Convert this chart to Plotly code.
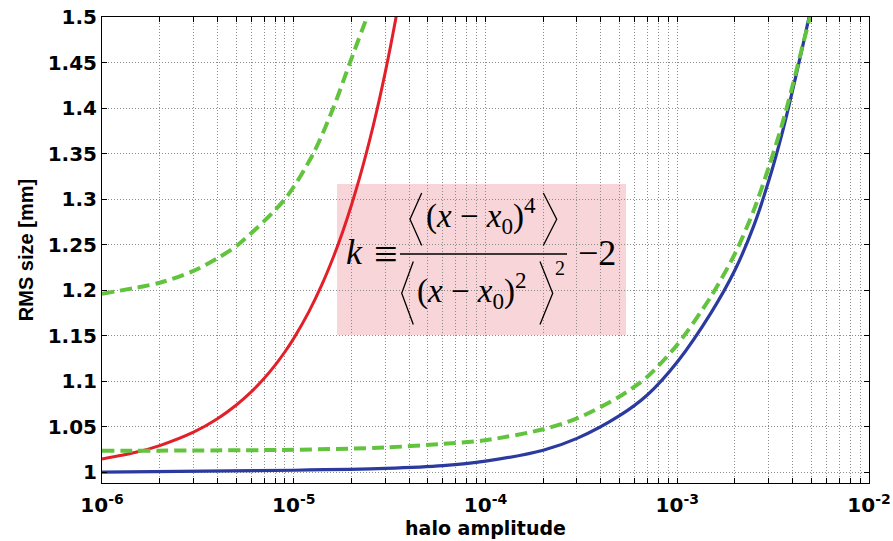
import plotly.graph_objects as go

# ---------------- data ----------------
red_x = [1e-6, 1.5e-6, 2e-6, 3e-6, 4e-6, 5e-6, 6e-6, 7e-6, 8e-6, 9e-6, 1e-5, 1.2e-5, 1.4e-5,
         1.6e-5, 1.8e-5, 2e-5, 2.2e-5, 2.4e-5, 2.6e-5, 2.8e-5, 3e-5, 3.2e-5, 3.4e-5, 3.45e-5]
red_y = [1.0143, 1.0217, 1.0291, 1.0438, 1.0586, 1.0734, 1.0881, 1.1028, 1.1175, 1.1322, 1.1469,
         1.1763, 1.2056, 1.2349, 1.2641, 1.2934, 1.3226, 1.3517, 1.3809, 1.4100, 1.4392, 1.4683,
         1.4974, 1.5046]

green_hi_x = [1e-6, 2e-6, 3e-6, 4e-6, 5.14e-6, 9.0e-6, 1.265e-5, 1.607e-5, 1.965e-5, 2.41e-5]
green_hi_y = [1.196, 1.208, 1.221, 1.235, 1.25, 1.30, 1.35, 1.40, 1.45, 1.50]

green_lo_x = [1e-6, 1e-5, 3e-5, 6e-5, 1e-4, 2e-4, 3e-4, 5e-4, 7e-4, 1e-3, 1.5e-3, 2e-3,
              2.5e-3, 3e-3, 3.5e-3, 4e-3, 4.5e-3, 4.92e-3]
green_lo_y = [1.0234, 1.0245, 1.027, 1.031, 1.035, 1.047, 1.059, 1.083, 1.105, 1.140, 1.193, 1.240,
              1.287, 1.335, 1.380, 1.425, 1.468, 1.50]

blue_x = [1e-6, 1e-5, 3e-5, 6e-5, 1e-4, 2e-4, 3e-4, 5e-4, 7e-4, 1e-3, 1.5e-3, 2e-3,
          2.5e-3, 3e-3, 3.5e-3, 4e-3, 4.5e-3, 4.87e-3]
blue_y = [1.000, 1.002, 1.004, 1.007, 1.012, 1.024, 1.037, 1.062, 1.085, 1.121, 1.175, 1.222,
          1.270, 1.320, 1.370, 1.420, 1.467, 1.50]

decades = [-6, -5, -4, -3]
x_tickvals = [m * 10.0 ** d for d in decades for m in range(1, 10)] + [1e-2]
x_ticktext = [("10<sup>%d</sup>" % d if m == 1 else "") for d in decades for m in range(1, 10)] + ["10<sup>-2</sup>"]
y_tickvals = [1.0, 1.05, 1.1, 1.15, 1.2, 1.25, 1.3, 1.35, 1.4, 1.45, 1.5]
y_ticktext = ["1", "1.05", "1.1", "1.15", "1.2", "1.25", "1.3", "1.35", "1.4", "1.45", "1.5"]

x_title = "halo amplitude"
y_title = "RMS size [mm]"

# ---------------- layout helpers ----------------
W, H = 893, 541
L, R, T, B = 102, 24, 17, 58
PW, PH = W - L - R, H - T - B


def px(x):
    return (x - L) / PW


def py(y):
    return (H - B - y) / PH


RED = "#e3202a"
BLUE = "#2b3a9e"
GREEN = "#62c43e"
GRID = "#8c8c8c"

fig = go.Figure()
fig.add_trace(go.Scatter(x=green_hi_x, y=green_hi_y, mode="lines", line_shape="spline",
                         line=dict(color=GREEN, width=4, dash="12px,6px", smoothing=0.8), showlegend=False))
fig.add_trace(go.Scatter(x=red_x, y=red_y, mode="lines", line_shape="spline",
                         line=dict(color=RED, width=3, smoothing=0.8), showlegend=False))
fig.add_trace(go.Scatter(x=blue_x, y=blue_y, mode="lines", line_shape="spline",
                         line=dict(color=BLUE, width=3.2, smoothing=0.8), showlegend=False))
fig.add_trace(go.Scatter(x=green_lo_x, y=green_lo_y, mode="lines", line_shape="spline",
                         line=dict(color=GREEN, width=4, dash="12px,6px", smoothing=0.8), showlegend=False))

tick_font = dict(family="DejaVu Sans", size=20, color="black", weight="bold")

fig.update_xaxes(type="log", range=[-6, -2], tickvals=x_tickvals, ticktext=x_ticktext,
                 tickfont=tick_font, ticks="inside", ticklen=5, tickcolor="black",
                 ticklabelstandoff=4, automargin=False,
                 showline=True, linecolor="black", linewidth=1, mirror="ticks",
                 showgrid=True, gridcolor=GRID, griddash="1px,2px", gridwidth=1,
                 zeroline=False,
                 title=dict(text=x_title, font=dict(family="DejaVu Sans", size=19, color="black", weight="bold"),
                            standoff=0))
fig.update_yaxes(range=[0.988, 1.5], tickvals=y_tickvals, ticktext=y_ticktext,
                 tickfont=tick_font, ticks="inside", ticklen=5, tickcolor="black",
                 automargin=False,
                 showline=True, linecolor="black", linewidth=1, mirror="ticks",
                 showgrid=True, gridcolor=GRID, griddash="1px,2px", gridwidth=1,
                 zeroline=False,
                 title=dict(text=y_title, font=dict(family="Liberation Sans Narrow, Liberation Sans", size=20,
                                                    color="black", weight="bold"),
                            standoff=8))

# pink formula box
shapes = [dict(type="rect", xref="paper", yref="paper", x0=px(337), x1=px(626), y0=py(335), y1=py(184),
               fillcolor="#f7d5d8", line=dict(width=0), layer="below")]
# fraction bar
shapes.append(dict(type="line", xref="paper", yref="paper", x0=px(400), x1=px(567), y0=py(254), y1=py(254),
                   line=dict(color="black", width=1.3)))


def bracket(xo, xv, ytop, ymid, ybot):
    return dict(type="path", xref="paper", yref="paper",
                path="M %f %f L %f %f L %f %f" % (px(xo), py(ytop), px(xv), py(ymid), px(xo), py(ybot)),
                line=dict(color="black", width=1.3))


shapes += [bracket(421.7, 410, 193, 219.3, 245.5), bracket(543.3, 556.7, 193, 219.3, 245.5),
           bracket(413.3, 401.7, 261.5, 293.3, 324.5), bracket(540, 552.7, 261.5, 293.3, 324.5)]

serif = "Liberation Serif"
anns = [
    dict(text="<i>k</i>", x=px(354), y=py(252), size=36),
    dict(text="≡", x=px(386), y=py(254), size=42),
    dict(text="(<i>x</i> − <i>x</i><sub>0</sub>)<sup>4</sup>", x=px(481), y=py(216), size=33),
    dict(text="(<i>x</i> − <i>x</i><sub>0</sub>)<sup>2</sup>", x=px(472), y=py(290), size=33),
    dict(text="2", x=px(560), y=py(268), size=20),
    dict(text="−2", x=px(597), y=py(253), size=36),
]
annotations = [dict(text=a["text"], x=a["x"], y=a["y"], xref="paper", yref="paper",
                    xanchor="center", yanchor="middle", showarrow=False,
                    font=dict(family=serif, size=a["size"], color="black")) for a in anns]

fig.update_layout(width=W, height=H, margin=dict(l=L, r=R, t=T, b=B),
                  paper_bgcolor="white", plot_bgcolor="white",
                  shapes=shapes, annotations=annotations, showlegend=False)

fig.write_html("out.html")
